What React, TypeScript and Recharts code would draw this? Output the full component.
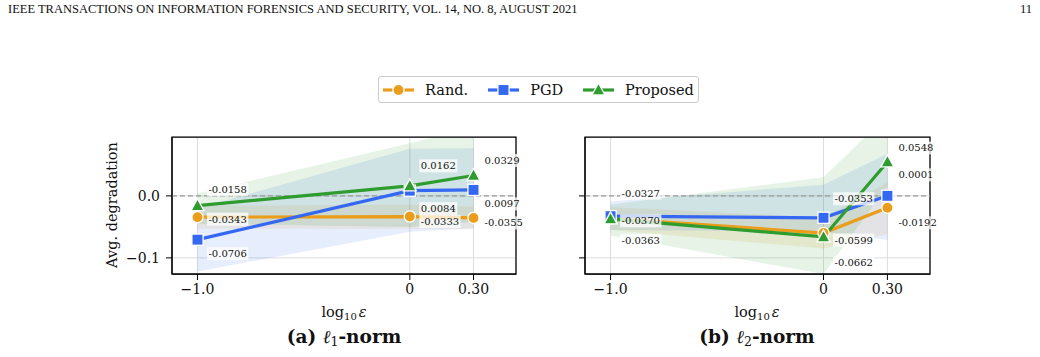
import { ComposedChart, Line, Area, XAxis, YAxis, CartesianGrid, ReferenceLine, ReferenceArea, LabelList } from 'recharts';

// log10(eps) positions shared by both panels
const logEps = [-1, 0, 0.3];
const xTicks = [-1, 0, 0.3];
const xTickLabels = ['\u22121.0', '0', '0.30'];
const yTicks = [-0.1, 0];
const yTickLabels = ['\u22120.1', '0.0'];

const seriesNames = ['Rand.', 'PGD', 'Proposed'];

// (a) l1-norm: mean degradation and shaded band
const l1Rand = [-0.0343, -0.0333, -0.0355];
const l1RandLo = [-0.053, -0.053, -0.054];
const l1RandHi = [-0.016, -0.014, -0.017];
const l1Pgd = [-0.0706, 0.0084, 0.0097];
const l1PgdLo = [-0.122, -0.058, -0.052];
const l1PgdHi = [-0.02, 0.076, 0.077];
const l1Proposed = [-0.0158, 0.0162, 0.0329];
const l1ProposedLo = [-0.045, -0.05, -0.042];
const l1ProposedHi = [0.004, 0.085, 0.11];

// (b) l2-norm
const l2Rand = [-0.0363, -0.0599, -0.0192];
const l2RandLo = [-0.055, -0.085, -0.062];
const l2RandHi = [-0.018, -0.035, 0.022];
const l2Pgd = [-0.0327, -0.0353, 0.0001];
const l2PgdLo = [-0.055, -0.058, -0.071];
const l2PgdHi = [-0.009, 0.018, 0.068];
const l2Proposed = [-0.037, -0.0662, 0.0548];
const l2ProposedLo = [-0.064, -0.126, 0.016];
const l2ProposedHi = [-0.014, 0.03, 0.13];

// vertical nudges (px) of the value annotations, per series and point
const l1LabelDy = [[2, 5, 5], [14, 18, 14], [-16, -20, -15]];
const l2LabelDy = [[22, 7, 15], [-23, -19, -21], [2, 26, -14]];

const COLORS = ['#EA9C1B', '#3468F2', '#2E9C2E'];
const SHAPES = ['circle', 'square', 'triangle'];
const KEYS = ['rand', 'pgd', 'proposed'];
const FONT = '"DejaVu Serif", serif';
const X_DOMAIN: [number, number] = [-1.12, 0.5];
const Y_DOMAIN: [number, number] = [-0.126, 0.095];

const buildRows = (means: number[][], los: number[][], his: number[][]) =>
  logEps.map((x, i) => {
    const row: any = { x };
    KEYS.forEach((k, s) => {
      row[k] = means[s][i];
      row[k + 'Band'] = [los[s][i], his[s][i]];
    });
    return row;
  });

const l1Rows = buildRows([l1Rand, l1Pgd, l1Proposed], [l1RandLo, l1PgdLo, l1ProposedLo], [l1RandHi, l1PgdHi, l1ProposedHi]);
const l2Rows = buildRows([l2Rand, l2Pgd, l2Proposed], [l2RandLo, l2PgdLo, l2ProposedLo], [l2RandHi, l2PgdHi, l2ProposedHi]);

const Marker = ({ cx, cy, shape, color }: any) => {
  if (cx == null || cy == null) return null;
  if (shape === 'circle') return <circle cx={cx} cy={cy} r={5.6} fill={color} stroke="#fff" strokeWidth={1.3} />;
  if (shape === 'square') return <rect x={cx - 5.6} y={cy - 5.6} width={11.2} height={11.2} fill={color} stroke="#fff" strokeWidth={1.3} />;
  return <polygon points={`${cx},${cy - 7} ${cx - 6.5},${cy + 5} ${cx + 6.5},${cy + 5}`} fill={color} stroke="#fff" strokeWidth={1.3} />;
};

const textWidth = (s: string) =>
  s.split('').reduce((w, c) => w + (c === '.' ? 3.18 : c === '-' ? 3.38 : 6.36), 0);

const valueLabel = (dys: number[]) => (p: any) => {
  const { x, y, value, index } = p;
  if (x == null || y == null) return null;
  const txt = Number(value).toFixed(4);
  const tx = x + 11;
  const ty = y + dys[index];
  const w = textWidth(txt);
  return (
    <g key={`lbl-${index}`}>
      <rect x={tx - 1.5} y={ty - 6.5} width={w + 3} height={13} fill="#fff" fillOpacity={0.75} />
      <text x={tx} y={ty} dominantBaseline="central" fontSize={10} fontFamily={FONT} fill="#111">
        {txt}
      </text>
    </g>
  );
};

const tickStyle = { fontSize: 14, fontFamily: FONT, fill: '#111' };

const Panel = ({ rows, labelDy, showYLabels, width, margin, yWidth }: any) => (
  <ComposedChart width={width} height={185} data={rows} margin={margin}>
    <CartesianGrid stroke="#dddddd" strokeWidth={1} />
    <XAxis
      dataKey="x"
      type="number"
      domain={X_DOMAIN}
      allowDataOverflow
      ticks={xTicks}
      tickFormatter={(v: number) => xTickLabels[xTicks.indexOf(v)] ?? String(v)}
      tick={tickStyle}
      tickSize={6}
      tickMargin={4}
      stroke="#000"
      height={30}
    />
    <YAxis
      type="number"
      domain={Y_DOMAIN}
      allowDataOverflow
      ticks={yTicks}
      tickFormatter={(v: number) => (showYLabels ? yTickLabels[yTicks.indexOf(v)] ?? '' : '')}
      tick={tickStyle}
      tickSize={6}
      tickMargin={6}
      stroke="#000"
      width={yWidth}
    />
    {KEYS.map((k, s) => (
      <Area
        key={k + 'Band'}
        type="linear"
        dataKey={k + 'Band'}
        stroke="none"
        fill={COLORS[s]}
        fillOpacity={0.12}
        isAnimationActive={false}
        activeDot={false}
      />
    ))}
    <ReferenceLine y={0} stroke="#9a9a9a" strokeDasharray="5 3" strokeWidth={1.2} />
    {KEYS.map((k, s) => (
      <Line
        key={k}
        type="linear"
        dataKey={k}
        stroke={COLORS[s]}
        strokeWidth={3.2}
        dot={(p: any) => <Marker key={`${k}-${p.index}`} cx={p.cx} cy={p.cy} shape={SHAPES[s]} color={COLORS[s]} />}
        activeDot={false}
        isAnimationActive={false}
      />
    ))}
    {KEYS.map((k, s) => (
      <Line key={k + 'Lbl'} type="linear" dataKey={k} stroke="none" dot={false} activeDot={false} isAnimationActive={false}>
        <LabelList dataKey={k} content={valueLabel(labelDy[s])} />
      </Line>
    ))}
    <ReferenceArea x1={X_DOMAIN[0]} x2={X_DOMAIN[1]} y1={Y_DOMAIN[0]} y2={Y_DOMAIN[1]} fill="none" stroke="#000" strokeWidth={1.25} />
  </ComposedChart>
);

const LegendHandle = ({ color, shape }: any) => (
  <svg width={31} height={14} style={{ display: 'block' }}>
    <line x1={0} y1={7} x2={31} y2={7} stroke={color} strokeWidth={3.2} />
    <Marker cx={15.5} cy={7} shape={shape} color={color} />
  </svg>
);

const XLabel = ({ left }: any) => (
  <div style={{ position: 'absolute', left, top: 304, width: 120, marginLeft: -60, textAlign: 'center', fontFamily: FONT, fontSize: 14.5, color: '#111' }}>
    log<sub style={{ fontSize: 10, verticalAlign: -3 }}>10</sub>
    <span style={{ fontStyle: 'italic', marginLeft: 2 }}>ε</span>
  </div>
);

const Caption = ({ left, tag, sub }: any) => (
  <div style={{ position: 'absolute', left, top: 326, width: 220, marginLeft: -110, textAlign: 'center', fontFamily: FONT, fontSize: 18.5, fontWeight: 'bold', color: '#111' }}>
    ({tag}) <span style={{ fontStyle: 'italic', fontWeight: 'normal' }}>ℓ</span>
    <sub style={{ fontSize: 12.5, fontWeight: 'normal', verticalAlign: -3 }}>{sub}</sub>-norm
  </div>
);

export default function App() {
  return (
    <div style={{ position: 'absolute', left: 0, top: 0, width: 1040, height: 357, background: '#fff', overflow: 'hidden' }}>
      <div style={{ position: 'absolute', left: 8, top: 2, fontFamily: '"Liberation Serif", serif', fontSize: 12.5, color: '#111', whiteSpace: 'nowrap' }}>
        IEEE TRANSACTIONS ON INFORMATION FORENSICS AND SECURITY, VOL. 14, NO. 8, AUGUST 2021
      </div>
      <div style={{ position: 'absolute', left: 1020, top: 2, fontFamily: '"Liberation Serif", serif', fontSize: 12.5, color: '#111' }}>11</div>

      <div
        style={{
          position: 'absolute', left: 378, top: 76, width: 319, height: 25, border: '1px solid #cccccc', borderRadius: 3,
          display: 'flex', alignItems: 'center', fontFamily: FONT, fontSize: 14.5, color: '#111',
        }}
      >
        {seriesNames.map((n, s) => (
          <div key={n} style={{ display: 'flex', alignItems: 'center', marginLeft: s === 0 ? 4 : 20 }}>
            <LegendHandle color={COLORS[s]} shape={SHAPES[s]} />
            <span style={{ marginLeft: 11 }}>{n}</span>
          </div>
        ))}
      </div>

      <div
        style={{
          position: 'absolute', left: 112, top: 205, transform: 'translate(-50%, -50%) rotate(-90deg)',
          fontFamily: FONT, fontSize: 14.5, color: '#111', whiteSpace: 'nowrap',
        }}
      >
        Avg. degradation
      </div>

      <div style={{ position: 'absolute', left: 0, top: 120 }}>
        <Panel rows={l1Rows} labelDy={l1LabelDy} showYLabels width={530} yWidth={50} margin={{ top: 17, right: 14, bottom: 1, left: 122 }} />
      </div>
      <div style={{ position: 'absolute', left: 520, top: 120 }}>
        <Panel rows={l2Rows} labelDy={l2LabelDy} showYLabels={false} width={420} yWidth={10} margin={{ top: 17, right: 10, bottom: 1, left: 55 }} />
      </div>

      <XLabel left={344} />
      <XLabel left={757} />
      <Caption left={344} tag="a" sub="1" />
      <Caption left={757} tag="b" sub="2" />
    </div>
  );
}
